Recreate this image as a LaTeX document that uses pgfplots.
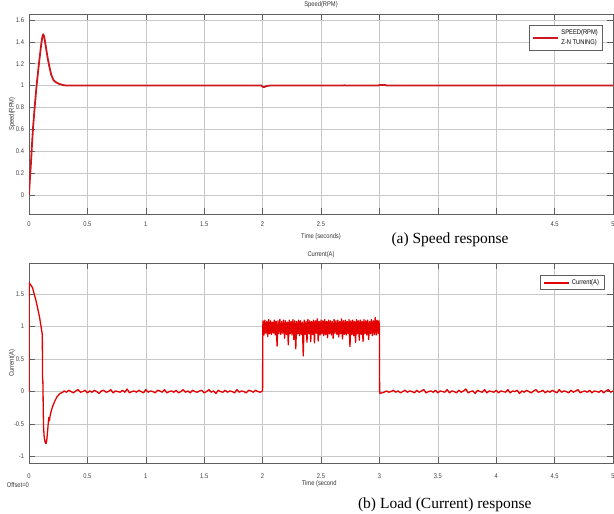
\documentclass[border=0pt]{standalone}
\usepackage{fontspec}
\setmainfont{Liberation Serif}
\setsansfont{Liberation Sans}
\newfontfamily\narrow[FakeStretch=0.85]{Liberation Sans}
\usepackage{pgfplots}
\pgfplotsset{compat=1.18}
\newcommand\tk{\narrow\fontsize{6.8}{7.5}\selectfont}
\definecolor{spd}{RGB}{205,25,30}
\definecolor{cur}{RGB}{228,0,0}
\definecolor{frm}{RGB}{95,95,95}
\definecolor{grd}{RGB}{200,200,200}

\pgfplotsset{
  scope/.style={
    scale only axis, width=584pt, height=200pt,
    xmin=0, xmax=5,
    xtick={0,0.5,...,5},
    tick pos=both, tick align=inside,
    major tick length=6pt,
    every tick/.style={frm, line width=0.5pt},
    axis line style={frm, line width=0.7pt},
    grid=major, major grid style={grd, line width=0.5pt},
    tick label style={font=\tk, text=black!75},
    yticklabel style={xshift=-1.5pt},
    label style={font=\tk, text=black!80},
    clip mode=individual,
    legend style={font=\tk, draw=frm, fill=white, line width=0.6pt,
      inner xsep=3pt, inner ysep=2pt, legend cell align=left},
    legend image code/.code={\draw[#1, line width=2pt] (0pt,0pt) -- (25pt,0pt);},
  }
}

\begin{document}
\begin{tikzpicture}
\useasboundingbox (0pt,0pt) rectangle (614pt,-514pt);

% ---- speed ----
\begin{axis}[scope,
  at={(29pt,-214pt)}, anchor=south west,
  ymin=-0.175, ymax=1.655,
  ytick={0,0.2,...,1.6},
  yticklabels={0,0.2,0.4,0.6,0.8,1,1.2,1.4,1.6},
  xticklabels={0,0.5,1,1.5,2,2.5,,,,4.5,5},
  xticklabel style={yshift=-4pt},
  xlabel={Time (seconds)},
  xlabel style={at={(axis description cs:0.5,-0.115)}, anchor=center},
  ylabel={Speed(RPM)},
  ylabel style={at={(axis description cs:-0.029,0.5)}, anchor=center},
  legend style={at={(0.983,0.945)}, anchor=north east},
]
\addplot[spd, line width=1.8pt, line join=round] coordinates {
(0,0)(0.008,0.15)(0.015,0.26)(0.025,0.45)(0.035,0.62)(0.05,0.82)(0.065,1.0)
(0.085,1.2)(0.105,1.38)(0.115,1.45)(0.122,1.47)(0.13,1.45)(0.145,1.35)(0.16,1.25)
(0.175,1.17)(0.19,1.1)(0.21,1.05)(0.23,1.03)(0.26,1.015)(0.29,1.005)(0.32,1.0)
(1.99,1.0)(2.0,0.99)(2.012,0.985)(2.03,0.995)(2.06,1.0)(2.69,1.0)(2.70,1.004)
(2.71,1.0)(2.99,1.0)(3.0,1.006)(3.05,1.006)(3.06,1.0)(5,1.0)
};
\addlegendentry{\shortstack[l]{SPEED(RPM)\\[1pt]Z-N TUNING)}}
\node[font=\tk, text=black!80] at (axis description cs:0.5,1.045) {Speed(RPM)};
\node[font=\fontsize{15.5}{17}\selectfont] at (axis description cs:0.721,-0.13) {(a) Speed response};
\end{axis}

% ---- current ----
\begin{axis}[scope,
  at={(29pt,-463pt)}, anchor=south west,
  ymin=-1.1, ymax=1.98,
  ytick={-1,-0.5,0,0.5,1,1.5},
  yticklabels={-1,-0.5,0,0.5,1,1.5},
  xticklabels={0,0.5,1,1.5,2,2.5,3,3.5,4,4.5,5},
  xticklabel style={yshift=-7pt},
  xlabel={Time (second},
  xlabel style={at={(axis description cs:0.497,-0.105)}, anchor=center},
  ylabel={Current(A)},
  ylabel style={at={(axis description cs:-0.029,0.5)}, anchor=center},
  legend style={at={(0.985,0.94)}, anchor=north east},
]
\addplot[cur, line width=1.3pt, line join=round] coordinates {
(0,0)(0.001,1.68)(0.03,1.6)(0.06,1.4)(0.09,1.15)(0.112,0.9)(0.114,0.88)
(0.116,0.2)(0.118,0.2)(0.12,0.05)(0.122,-0.3)(0.125,-0.55)(0.13,-0.7)(0.138,-0.78)
(0.146,-0.8)(0.152,-0.75)(0.16,-0.6)(0.165,-0.48)(0.17,-0.4)(0.175,-0.45)(0.18,-0.38)
(0.19,-0.3)(0.2,-0.24)(0.22,-0.15)(0.24,-0.08)(0.265,-0.03)(0.29,-0.01)
(0.30,0.01)(0.32,-0.01)(0.34,0.02)(0.36,0.00)(0.38,-0.02)(0.40,0.01)(0.42,0.03)
(0.44,-0.01)(0.46,0.00)(0.48,0.02)(0.50,-0.02)(0.52,0.01)(0.54,-0.01)(0.56,0.02)
(0.58,0.00)(0.60,-0.03)(0.62,0.01)(0.64,0.02)(0.66,-0.01)(0.68,0.00)(0.70,0.03)
(0.72,-0.02)(0.74,0.01)(0.76,0.00)(0.78,-0.01)(0.80,0.02)(0.82,-0.01)(0.84,0.04)
(0.86,-0.02)(0.88,0.00)(0.90,0.01)(0.92,-0.01)(0.94,0.02)(0.96,0.00)(0.98,-0.02)
(1.00,0.03)(1.02,-0.01)(1.04,0.01)(1.06,0.00)(1.08,-0.02)(1.10,0.02)(1.12,0.01)
(1.14,-0.01)(1.16,0.03)(1.18,-0.02)(1.20,0.00)(1.22,0.01)(1.24,-0.01)(1.26,0.02)
(1.28,-0.02)(1.30,0.00)(1.32,0.03)(1.34,-0.01)(1.36,0.01)(1.38,-0.02)(1.40,0.02)
(1.42,0.00)(1.44,-0.01)(1.46,0.01)(1.48,0.02)(1.50,-0.02)(1.52,0.00)(1.54,0.03)
(1.56,-0.01)(1.58,0.01)(1.60,-0.03)(1.62,0.02)(1.64,0.00)(1.66,-0.01)(1.68,0.02)
(1.70,-0.01)(1.72,0.01)(1.74,0.00)(1.76,-0.02)(1.78,0.03)(1.80,-0.01)(1.82,0.01)
(1.84,0.00)(1.86,-0.02)(1.88,0.02)(1.90,0.01)(1.92,-0.01)(1.94,0.02)(1.96,0.00)
(1.98,-0.01)(1.998,0.01)(2.0,0.05)(2.001,0.98)
(2.004,1.09)(2.012,0.87)(2.020,1.10)(2.028,0.90)(2.036,1.08)(2.044,0.85)(2.052,1.11)
(2.060,0.89)(2.068,1.09)(2.076,0.88)(2.084,1.07)(2.092,0.90)(2.100,1.10)(2.108,0.87)
(2.116,1.08)(2.124,0.70)(2.132,1.09)(2.140,0.89)(2.148,1.11)(2.156,0.88)(2.164,1.08)
(2.172,0.90)(2.180,1.10)(2.188,0.82)(2.196,1.09)(2.204,0.88)(2.212,1.07)(2.220,0.72)
(2.228,1.10)(2.236,0.89)(2.244,1.08)(2.252,0.87)(2.260,1.11)(2.268,0.80)(2.276,1.09)
(2.284,0.66)(2.292,1.08)(2.300,0.89)(2.308,1.10)(2.316,0.86)(2.324,1.09)(2.332,0.88)
(2.340,1.07)(2.348,0.55)(2.356,1.10)(2.364,0.88)(2.372,1.08)(2.380,0.76)(2.388,1.11)
(2.396,0.89)(2.404,1.09)(2.412,0.77)(2.420,1.08)(2.428,0.88)(2.436,1.10)(2.444,0.75)
(2.452,1.09)(2.460,0.90)(2.468,1.12)(2.476,0.78)(2.484,1.08)(2.492,0.87)(2.500,1.10)
(2.508,0.89)(2.516,1.09)(2.524,0.86)(2.532,1.11)(2.540,0.88)(2.548,1.08)(2.556,0.83)
(2.564,1.10)(2.572,0.89)(2.580,1.09)(2.588,0.87)(2.596,1.08)(2.604,0.82)(2.612,1.11)
(2.620,0.90)(2.628,1.09)(2.636,0.88)(2.644,1.10)(2.652,0.84)(2.660,1.08)(2.668,0.89)
(2.676,1.12)(2.684,0.81)(2.692,1.09)(2.700,0.88)(2.708,1.10)(2.716,0.87)(2.724,1.08)
(2.732,0.89)(2.740,1.11)(2.748,0.69)(2.756,1.09)(2.764,0.88)(2.772,1.10)(2.780,0.86)
(2.788,1.08)(2.796,0.76)(2.804,1.11)(2.812,0.89)(2.820,1.09)(2.828,0.79)(2.836,1.10)
(2.844,0.88)(2.852,1.08)(2.860,0.77)(2.868,1.11)(2.876,0.89)(2.884,1.09)(2.892,0.87)
(2.900,1.10)(2.908,0.80)(2.916,1.08)(2.924,0.89)(2.932,1.11)(2.940,0.86)(2.948,1.09)
(2.956,0.88)(2.964,1.14)(2.972,0.87)(2.980,1.10)(2.988,0.89)(2.996,1.09)
(3.0,1.0)(3.002,0.0)(3.005,-0.03)(3.02,-0.02)(3.04,-0.01)
(3.06,0.01)(3.08,-0.01)(3.10,0.00)(3.12,0.02)(3.14,-0.01)(3.16,0.01)(3.18,-0.02)
(3.20,0.00)(3.22,0.02)(3.24,-0.01)(3.26,0.01)(3.28,0.00)(3.30,-0.02)(3.32,0.02)
(3.34,-0.01)(3.36,0.01)(3.38,0.03)(3.40,-0.02)(3.42,0.00)(3.44,0.01)(3.46,-0.01)
(3.48,0.02)(3.50,-0.02)(3.52,0.01)(3.54,0.00)(3.56,-0.01)(3.58,0.03)(3.60,-0.02)
(3.62,0.01)(3.64,0.00)(3.66,-0.02)(3.68,0.02)(3.70,-0.01)(3.72,0.01)(3.74,0.04)
(3.76,-0.02)(3.78,0.00)(3.80,0.01)(3.82,-0.03)(3.84,0.02)(3.86,0.00)(3.88,-0.01)
(3.90,0.03)(3.92,-0.02)(3.94,0.01)(3.96,0.00)(3.98,-0.01)(4.00,0.02)(4.02,-0.02)
(4.04,0.01)(4.06,0.00)(4.08,-0.01)(4.10,0.03)(4.12,-0.02)(4.14,0.01)(4.16,0.00)
(4.18,0.02)(4.20,-0.03)(4.22,0.01)(4.24,-0.01)(4.26,0.02)(4.28,0.00)(4.30,-0.02)
(4.32,0.01)(4.34,0.03)(4.36,-0.01)(4.38,0.00)(4.40,0.02)(4.42,-0.02)(4.44,0.01)
(4.46,-0.01)(4.48,0.02)(4.50,0.00)(4.52,-0.02)(4.54,0.03)(4.56,-0.01)(4.58,0.01)
(4.60,0.00)(4.62,-0.02)(4.64,0.02)(4.66,-0.01)(4.68,0.01)(4.70,0.03)(4.72,-0.02)
(4.74,0.00)(4.76,0.01)(4.78,-0.01)(4.80,0.02)(4.82,-0.02)(4.84,0.01)(4.86,0.00)
(4.88,-0.01)(4.90,0.02)(4.92,-0.02)(4.94,0.01)(4.96,0.03)(4.98,-0.01)(5.00,0.01)
};
\addlegendentry{Current(A)}
\node[font=\tk, text=black!80] at (axis description cs:0.5,1.04) {Current(A)};
\node[font=\tk, text=black!80] at (axis description cs:-0.019,-0.112) {Offset=0};
\node[font=\fontsize{15.5}{17}\selectfont] at (axis description cs:0.712,-0.21) {(b) Load (Current) response};
\end{axis}
\end{tikzpicture}
\end{document}
